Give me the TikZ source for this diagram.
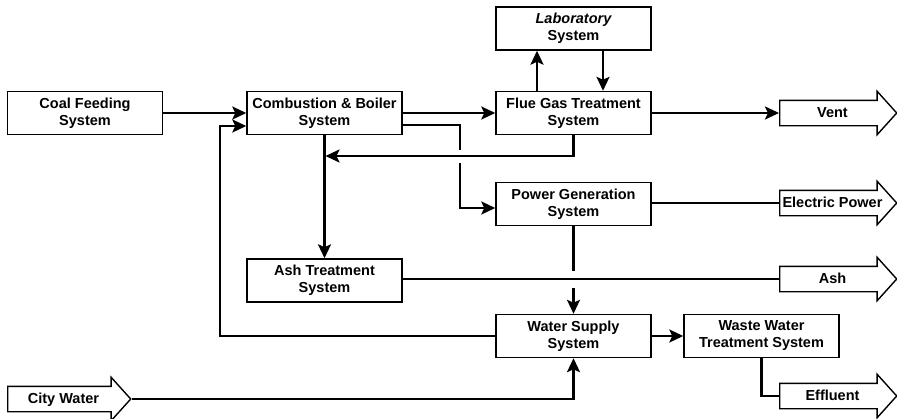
\documentclass[tikz,border=0pt]{standalone}
\usepackage{fontspec}
\setmainfont{Liberation Sans}
\usetikzlibrary{arrows.meta,shapes.arrows}
\begin{document}
\begin{tikzpicture}[x=1pt,y=-1pt,
  every node/.style={font=\bfseries\fontsize{14.5}{17}\selectfont},
  sys/.style={draw, line width=1.4pt, minimum width=155pt, minimum height=43pt, align=center, inner sep=1pt},
  outflow/.style={single arrow, draw, line width=1.4pt, minimum height=117pt, minimum width=42pt,
    single arrow head extend=9pt, single arrow tip angle=96, text height=11pt, text depth=3pt,
    inner ysep=5pt, inner xsep=2pt},
  flow/.style={line width=2.4pt},
  feed/.style={flow, -{Stealth[length=14pt,width=13pt,inset=3pt]}}]
  \useasboundingbox (0,0) rectangle (897,418);
  \node[sys] (coal) at (85,113) {Coal Feeding\\System};
  \node[sys] (comb) at (324.5,113) {Combustion \& Boiler\\System};
  \node[sys] (lab) at (573.5,28.5) {\bfseries\itshape Laboratory\\System};
  \node[sys] (flue) at (573.5,113) {Flue Gas Treatment\\System};
  \node[sys] (power) at (573.5,204) {Power Generation\\System};
  \node[sys] (ash) at (324.5,280.5) {Ash Treatment\\System};
  \node[sys] (water) at (573.5,336) {Water Supply\\System};
  \node[sys] (waste) at (761.5,336) {Waste Water\\Treatment System};
  \node[outflow, anchor=tail] (vent) at (779,113) {Vent};
  \node[outflow, anchor=tail] (elec) at (779,203) {Electric Power};
  \node[outflow, anchor=tail] (ashout) at (779,279) {Ash};
  \node[outflow, anchor=tail] (effluent) at (779,396) {Effluent};
  \node[outflow, anchor=tail, minimum height=123pt] (city) at (7,399) {City Water};
  \coordinate (pgtop) at (460,150);
  \coordinate (pgbot) at (460,163);
  \coordinate (ret) at (325.5,156);
  \coordinate (pwa) at (573.5,271);
  \coordinate (pwb) at (573.5,288);
  \coordinate (loop) at (220,126);
  \draw[feed] (coal) -- (comb);
  \draw[feed] (comb) -- (flue);
  \draw[flow] ([yshift=-12pt]comb.east) -| (pgtop);
  \draw[feed] (pgbot) |- ([yshift=-4pt]power.west);
  \draw[feed] (flue.south) |- (ret);
  \draw[feed] (comb) -- (ash);
  \draw[feed] ([xshift=-36.5pt]flue.north) -- ([xshift=-36.5pt]lab.south);
  \draw[feed] ([xshift=29.5pt]lab.south) -- ([xshift=29.5pt]flue.north);
  \draw[feed] (flue.east) -- (vent.tail);
  \draw[flow] ([yshift=1pt]power.east) -- (elec.tail);
  \draw[flow] (power) -- (pwa);
  \draw[feed] (pwb) -- (water);
  \draw[flow] ([yshift=1.5pt]ash.east) -- (ashout.tail);
  \draw[feed] (water.west) -| (loop) -- (loop -| comb.west);
  \draw[feed] (water) -- (waste);
  \draw[flow] (waste.south) |- (effluent.tail);
  \draw[feed] (city.tip) -| (water.south);
\end{tikzpicture}
\end{document}
